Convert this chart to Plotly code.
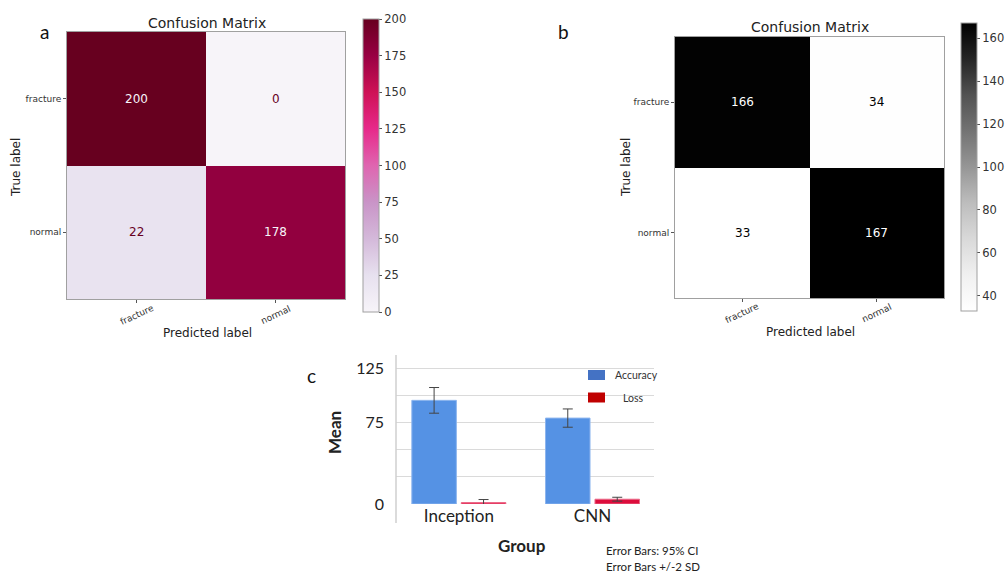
import plotly.graph_objects as go

# ---------------- data ----------------
labels = ["fracture", "normal"]
cm_a = [[200, 0], [22, 178]]
cm_b = [[166, 34], [33, 167]]
cbar_a_ticks = [0, 25, 50, 75, 100, 125, 150, 175, 200]
cbar_b_ticks = [40, 60, 80, 100, 120, 140, 160]

groups = ["Inception", "CNN"]
series_names = ["Accuracy", "Loss"]
accuracy = [95.3, 79.0]
accuracy_err = [11.8, 8.4]
loss = [1.3, 4.4]
loss_err = [2.8, 1.8]
c_tickvals = [0, 25, 50, 75, 100, 125]
c_ticktext = ["0", "", "", "75", "", "125"]
error_notes = ["Error Bars: 95% CI", "Error Bars +/-2 SD"]

# ---------------- helpers ----------------
W, H = 1005, 574


def fx(px):
    return px / W


def fy(py):
    return 1 - py / H


PURD = ["#f7f4f9", "#e7e1ef", "#d4b9da", "#c994c7", "#df65b0",
        "#e7298a", "#ce1256", "#980043", "#67001f"]
GREYS = ["#ffffff", "#f0f0f0", "#d9d9d9", "#bdbdbd", "#969696",
         "#737373", "#525252", "#252525", "#000000"]


def scale(cols):
    n = len(cols) - 1
    return [[i / n, c] for i, c in enumerate(cols)]


DV = "DejaVu Sans"
CAL = "Lato"

fig = go.Figure()


def note(text, px, py, size, family, color="#222", angle=0, xanchor="center"):
    fig.add_annotation(x=fx(px), y=fy(py), xref="paper", yref="paper", showarrow=False,
                       xanchor=xanchor, yanchor="middle", text=text, textangle=angle,
                       font=dict(family=family, size=size, color=color))


# ---------------- heatmaps ----------------
panels = [
    dict(cm=cm_a, cols=PURD, xa="x", ya="y", zmin=0, zmax=200, ticks=cbar_a_ticks,
         cb=(363, 19, 312), dom=(67, 345, 32, 299), xl_y=315),
    dict(cm=cm_b, cols=GREYS, xa="x2", ya="y2", zmin=33, zmax=167, ticks=cbar_b_ticks,
         cb=(961, 23, 311), dom=(675, 944, 37, 298), xl_y=313),
]

for p in panels:
    cbx, cby0, cby1 = p["cb"]
    fig.add_trace(go.Heatmap(
        z=p["cm"], x=labels, y=labels, xaxis=p["xa"], yaxis=p["ya"],
        colorscale=scale(p["cols"]), zmin=p["zmin"], zmax=p["zmax"],
        colorbar=dict(
            x=fx(cbx), xanchor="left", y=fy(cby0), yanchor="top",
            len=(cby1 - cby0) / H, lenmode="fraction", thickness=16,
            thicknessmode="pixels", xpad=0, ypad=0,
            outlinewidth=1, outlinecolor="#a0a0a0",
            tickvals=p["ticks"], ticks="outside", ticklen=3, tickcolor="#555",
            tickfont=dict(family=DV, size=11.5, color="#333"),
        ),
        hoverinfo="skip",
    ))
    thresh = (p["zmin"] + p["zmax"]) / 2
    for i, row in enumerate(p["cm"]):
        for j, v in enumerate(row):
            col = p["cols"][0] if v >= thresh else p["cols"][-1]
            fig.add_annotation(x=labels[j], y=labels[i], xref=p["xa"], yref=p["ya"],
                               text=str(v), showarrow=False,
                               font=dict(family=DV, size=12, color=col))
    # rotated x tick labels centred under each column (matplotlib style)
    for lab in labels:
        fig.add_annotation(x=lab, xref=p["xa"], y=fy(p["xl_y"]), yref="paper",
                           text=lab, showarrow=False, textangle=-25,
                           xanchor="center", yanchor="middle",
                           font=dict(family=DV, size=9, color="#333"))

axis_common = dict(showline=True, mirror=True, linecolor="#a0a0a0", linewidth=1,
                   ticks="outside", ticklen=3, tickcolor="#555", showgrid=False,
                   zeroline=False, automargin=False)

x0, x1, y0, y1 = panels[0]["dom"]
fig.update_layout(
    xaxis=dict(domain=[fx(x0), fx(x1)], anchor="y", showticklabels=False,
               **axis_common),
    yaxis=dict(domain=[fy(y1), fy(y0)], anchor="x", autorange="reversed",
               tickfont=dict(family=DV, size=9, color="#333"), **axis_common),
)
x0, x1, y0, y1 = panels[1]["dom"]
fig.update_layout(
    xaxis2=dict(domain=[fx(x0), fx(x1)], anchor="y2", showticklabels=False,
                **axis_common),
    yaxis2=dict(domain=[fy(y1), fy(y0)], anchor="x2", autorange="reversed",
                tickfont=dict(family=DV, size=9, color="#333"), **axis_common),
)

# heatmap texts
for cx, ty, py, tlx, tly in [(207, 23, 333, 16, 167), (810, 27, 332, 626, 168)]:
    note("Confusion Matrix", cx, ty, 14, DV)
    note("Predicted label", cx, py, 12, DV)
    note("True label", tlx, tly, 12, DV, angle=-90)

for t, px, py in [("a", 44, 32), ("b", 563, 32), ("c", 311, 376)]:
    note(t, px, py, 19, CAL, color="#111")

# ---------------- bar chart ----------------
fig.add_trace(go.Bar(
    x=groups, y=accuracy, name=series_names[0], xaxis="x3", yaxis="y3",
    marker=dict(color="#5592e4", line=dict(color="#8db5ee", width=1)),
    error_y=dict(type="data", array=accuracy_err, color="#444", thickness=1, width=5),
    showlegend=False, hoverinfo="skip",
))
fig.add_trace(go.Bar(
    x=groups, y=loss, name=series_names[1], xaxis="x3", yaxis="y3",
    marker=dict(color="#dc0d3c", line=dict(color="#ec6a88", width=1)),
    error_y=dict(type="data", array=loss_err, color="#444", thickness=1, width=5),
    showlegend=False, hoverinfo="skip",
))

fig.update_layout(
    barmode="group", bargap=0.26, bargroupgap=0.1,
    xaxis3=dict(domain=[fx(396), fx(654)], anchor="y3", range=[-0.47, 1.46],
                showgrid=False, zeroline=False, showline=False, ticks="",
                automargin=False,
                tickfont=dict(family=CAL, size=17, color="#222")),
    yaxis3=dict(domain=[fy(504), fy(355)], anchor="x3", range=[0, 137],
                tickvals=c_tickvals, ticktext=c_ticktext, showgrid=True,
                gridcolor="#dadada", gridwidth=1, zeroline=False, showline=False,
                ticks="", ticklabelstandoff=11, automargin=False,
                tickfont=dict(family=CAL, size=16, color="#222")),
)

# vertical axis frame line
fig.add_shape(type="line", xref="paper", yref="paper", x0=fx(396), x1=fx(396),
              y0=fy(523), y1=fy(355), line=dict(color="#cfcfcf", width=1.5))

# manual legend
leg_cols = ["#4472c4", "#c00000"]
for name, col, yc, tx in zip(series_names, leg_cols, [375, 397.5], [636, 633]):
    fig.add_shape(type="rect", xref="paper", yref="paper",
                  x0=fx(588), x1=fx(605), y0=fy(yc + 5), y1=fy(yc - 5),
                  fillcolor=col, line=dict(width=0))
    note(name, tx, yc, 10.5, CAL, color="#333")

note("<b>Group</b>", 522, 545, 17, CAL)
note("<b>Mean</b>", 334, 433, 17, CAL, angle=-90)
for t, py in zip(error_notes, [550, 566]):
    note(t, 604, py, 11.5, CAL, xanchor="left")

fig.update_layout(
    width=W, height=H, margin=dict(l=0, r=0, t=0, b=0, autoexpand=False),
    paper_bgcolor="white", plot_bgcolor="white", showlegend=False,
)

fig.write_html("out.html", config={"displayModeBar": False},
               post_script="document.body.style.margin='0';")
